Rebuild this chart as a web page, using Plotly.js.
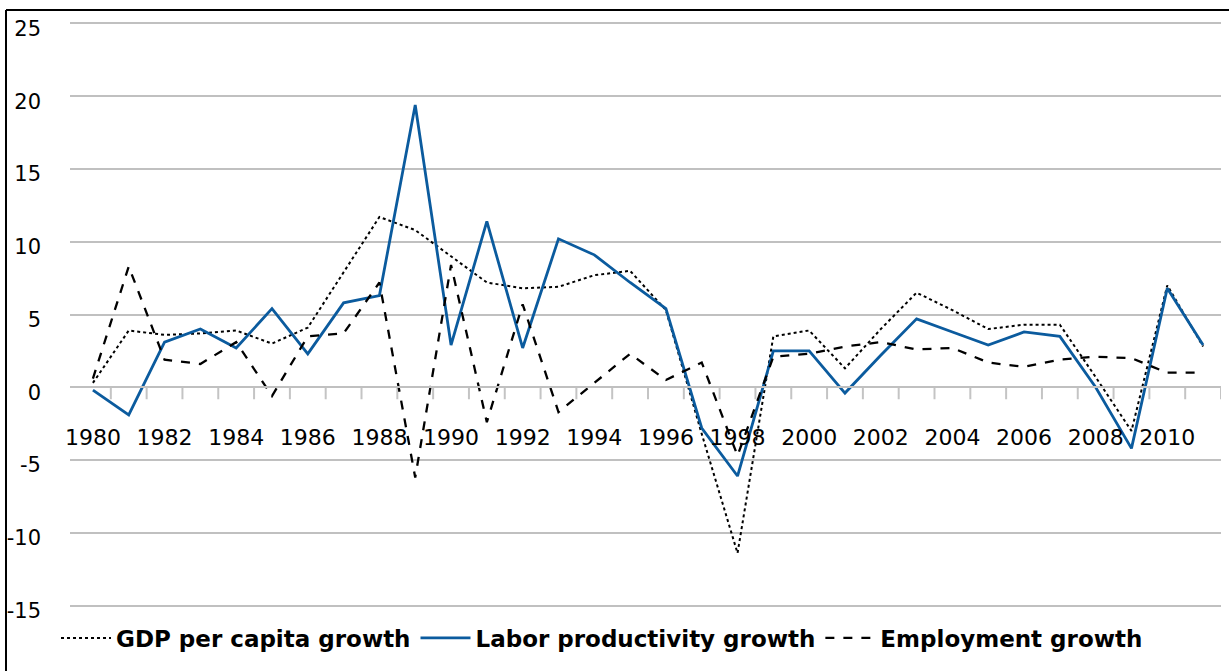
<!DOCTYPE html>
<html>
<head>
<meta charset="utf-8">
<script src="https://cdn.plot.ly/plotly-3.0.1.min.js"></script>
<style>html,body{margin:0;padding:0;background:#fff;}#chart{width:1229px;height:671px;}</style>
</head>
<body>
<div id="chart"></div>
<script>
var years = [1980,1981,1982,1983,1984,1985,1986,1987,1988,1989,1990,1991,1992,1993,1994,1995,1996,1997,1998,1999,2000,2001,2002,2003,2004,2005,2006,2007,2008,2009,2010,2011];
var gdpPerCapita = [0.3,3.9,3.6,3.7,3.9,3.0,4.1,7.9,11.7,10.8,9.0,7.2,6.8,6.9,7.7,8.0,5.3,-3.2,-11.4,3.5,3.9,1.3,4.0,6.5,5.3,4.0,4.3,4.3,0.7,-3.0,7.0,2.8];
var laborProductivity = [-0.2,-1.9,3.1,4.0,2.7,5.4,2.3,5.8,6.3,19.4,2.9,11.4,2.7,10.2,9.1,7.2,5.4,-2.8,-6.1,2.5,2.5,-0.4,2.2,4.7,3.8,2.9,3.8,3.5,0.0,-4.2,6.8,2.9];
var employment = [0.6,8.3,1.9,1.6,3.1,-0.6,3.5,3.7,7.2,-6.2,8.4,-2.4,5.7,-1.7,0.3,2.3,0.5,1.7,-4.7,2.1,2.3,2.8,3.1,2.6,2.7,1.7,1.4,1.9,2.1,2.0,1.0,1.0];
var seriesNames = ["GDP per capita growth","Labor productivity growth","Employment growth"];
var xTickVals = [1980,1982,1984,1986,1988,1990,1992,1994,1996,1998,2000,2002,2004,2006,2008,2010];
var yTickVals = [-15,-10,-5,0,5,10,15,20,25];

// category boundaries (tick marks between years)
var boundaries = years.map(function(y){return y+0.5;});

var L = 70, R = 1221, T = 22, B = 607;
var pw = R - L, ph = B - T;
function px(v){ return (v - L)/pw; }
function py(v){ return (B - v)/ph; }
var yRange = [-15.1, 25.1];
var xRange = [1979.36, 2011.5];
var zeroPos = (0-yRange[0])/(yRange[1]-yRange[0]);
var tickLenData = 12/ph*(yRange[1]-yRange[0]);

// tick marks between categories, drawn through the axes as a line trace
var tickX = [], tickY = [];
boundaries.forEach(function(b){ tickX.push(b, b, null); tickY.push(0, -tickLenData, null); });

var traces = [
  {x: tickX, y: tickY, type:'scatter', mode:'lines', showlegend:false, hoverinfo:'skip',
   line:{color:'#c4c4c4', width:2}, connectgaps:false},
  {x: years, y: gdpPerCapita, name: seriesNames[0], type:'scatter', mode:'lines',
   line:{color:'#000000', width:2, dash:'dot'}},
  {x: years, y: laborProductivity, name: seriesNames[1], type:'scatter', mode:'lines',
   line:{color:'#0b5b9e', width:2.8}},
  {x: years, y: employment, name: seriesNames[2], type:'scatter', mode:'lines',
   line:{color:'#000000', width:2.3, dash:'dash'}}
];

var shapes = [
  {type:'line', xref:'paper', yref:'paper', x0:px(6), x1:px(1229), y0:py(10), y1:py(10), line:{color:'#000', width:2}},
  {type:'line', xref:'paper', yref:'paper', x0:px(6), x1:px(6), y0:py(10), y1:py(680), line:{color:'#000', width:2}}
];

var layout = {
  width:1229, height:671,
  margin:{l:L, r:1229-R, t:T, b:671-B, pad:0},
  paper_bgcolor:'#ffffff', plot_bgcolor:'#ffffff',
  font:{family:'DejaVu Sans, sans-serif', color:'#000000', size:20},
  showlegend:true,
  legend:{orientation:'h', x:px(56), xanchor:'left', y:py(638), yanchor:'middle',
          font:{family:'DejaVu Sans, sans-serif', size:23, color:'#000', weight:'bold'},
          itemwidth:50, tracegroupgap:0, bgcolor:'rgba(0,0,0,0)'},
  xaxis:{type:'linear', range:xRange, anchor:'free', position:zeroPos,
         tickmode:'array', tickvals:xTickVals, ticktext:xTickVals.map(String),
         ticks:'', ticklabelstandoff:30, showgrid:false, zeroline:false,
         showline:true, linecolor:'#c0c0c0', linewidth:2,
         tickfont:{family:'DejaVu Sans, sans-serif', size:22, color:'#000'}},
  yaxis:{range:yRange, tickmode:'array', tickvals:yTickVals, ticktext:yTickVals.map(String),
         ticks:'', showgrid:true, gridcolor:'#c0c0c0', gridwidth:2, zeroline:false,
         showline:false, ticklabelstandoff:28, ticklabelshift:5,
         tickfont:{family:'DejaVu Sans, sans-serif', size:21, color:'#000'}},
  shapes: shapes
};

Plotly.newPlot('chart', traces, layout, {displayModeBar:false, staticPlot:true});
</script>
</body>
</html>
